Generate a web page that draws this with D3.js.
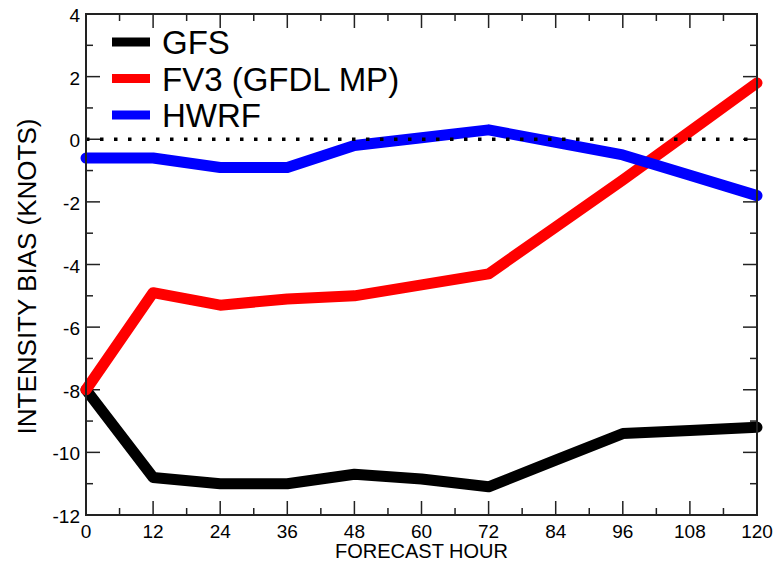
<!DOCTYPE html>
<html>
<head>
<meta charset="utf-8">
<script src="https://cdn.jsdelivr.net/npm/d3@7"></script>
<style>
  body { margin: 0; background: #fff; }
  svg { display: block; font-family: "Liberation Sans", Arial, sans-serif; }
</style>
</head>
<body>
<svg id="chart" width="777" height="564"></svg>
<script>
var hours = [0, 12, 24, 36, 48, 60, 72, 84, 96, 108, 120];
var gfs  = [-8, -10.8, -11, -11, -10.7, -10.85, -11.1, -10.25, -9.4, -9.3, -9.2];
var fv3  = [-8, -4.9, -5.3, -5.1, -5.0, -4.65, -4.3, -2.8, -1.3, 0.25, 1.8];
var hwrf = [-0.6, -0.6, -0.9, -0.9, -0.2, 0.05, 0.3, -0.1, -0.5, -1.15, -1.8];
var seriesNames = ["GFS", "FV3 (GFDL MP)", "HWRF"];
var seriesColors = ["#000000", "#ff0000", "#0000ff"];
var xTicks = [0, 12, 24, 36, 48, 60, 72, 84, 96, 108, 120];
var yTicks = [-12, -10, -8, -6, -4, -2, 0, 2, 4];

var margin = {top: 14, right: 20, bottom: 49, left: 86},
    width = 777 - margin.left - margin.right,
    height = 564 - margin.top - margin.bottom;

var svg = d3.select("#chart");
var g = svg.append("g")
    .attr("transform", "translate(" + margin.left + "," + margin.top + ")");

var x = d3.scaleLinear().domain([0, 120]).range([0, width]);
var y = d3.scaleLinear().domain([-12, 4]).range([height, 0]);

// minor ticks (inside, all four sides)
var xMinor = d3.range(6, 120, 12);
var yMinor = d3.range(-11, 4, 2);

function tickLines(vals, len, horiz) {
  vals.forEach(function(v) {
    if (horiz) {
      g.append("line").attr("x1", x(v)).attr("x2", x(v)).attr("y1", height).attr("y2", height - len);
      g.append("line").attr("x1", x(v)).attr("x2", x(v)).attr("y1", 0).attr("y2", len);
    } else {
      g.append("line").attr("y1", y(v)).attr("y2", y(v)).attr("x1", 0).attr("x2", len);
      g.append("line").attr("y1", y(v)).attr("y2", y(v)).attr("x1", width).attr("x2", width - len);
    }
  });
}
tickLines(xTicks, 14, true);
tickLines(xMinor, 7, true);
tickLines(yTicks, 14, false);
tickLines(yMinor, 7, false);
g.selectAll("line").attr("stroke", "#222").attr("stroke-width", 1.5);

// tick labels
g.append("g")
    .attr("font-size", 19)
    .attr("text-anchor", "middle")
  .selectAll("text")
  .data(xTicks)
  .join("text")
    .attr("x", d => x(d))
    .attr("y", height + 23)
    .text(d => d);

g.append("g")
    .attr("font-size", 19)
    .attr("text-anchor", "end")
  .selectAll("text")
  .data(yTicks)
  .join("text")
    .attr("x", -6)
    .attr("y", d => y(d) + 8)
    .text(d => d);

// data lines
var line = d3.line()
    .x((d, i) => x(hours[i]))
    .y(d => y(d));

[gfs, fv3, hwrf].forEach(function(s, i) {
  g.append("path")
      .datum(s)
      .attr("fill", "none")
      .attr("stroke", seriesColors[i])
      .attr("stroke-width", 11)
      .attr("stroke-linejoin", "round")
      .attr("stroke-linecap", "round")
      .attr("d", line);
});

// zero line
g.append("line")
    .attr("x1", 0).attr("x2", width)
    .attr("y1", y(0)).attr("y2", y(0))
    .attr("stroke", "#000")
    .attr("stroke-width", 3.5)
    .attr("stroke-dasharray", "3.5,10.5");

// frame
g.append("rect")
    .attr("width", width).attr("height", height)
    .attr("fill", "none")
    .attr("stroke", "#222")
    .attr("stroke-width", 2);

// legend
var legend = g.append("g");
seriesNames.forEach(function(name, i) {
  var ly = 28 + i * 36.5;
  legend.append("line")
      .attr("x1", 26).attr("x2", 64)
      .attr("y1", ly).attr("y2", ly)
      .attr("stroke", seriesColors[i])
      .attr("stroke-width", 9);
  legend.append("text")
      .attr("x", 76).attr("y", ly + 12)
      .attr("font-size", 33)
      .text(name);
});

// axis titles
svg.append("text")
    .attr("x", margin.left + width / 2)
    .attr("y", 558)
    .attr("text-anchor", "middle")
    .attr("font-size", 20)
    .text("FORECAST HOUR");

svg.append("text")
    .attr("transform", "translate(36," + (margin.top + height / 2 + 12) + ") rotate(-90)")
    .attr("text-anchor", "middle")
    .attr("font-size", 26)
    .text("INTENSITY BIAS (KNOTS)");
</script>
</body>
</html>
